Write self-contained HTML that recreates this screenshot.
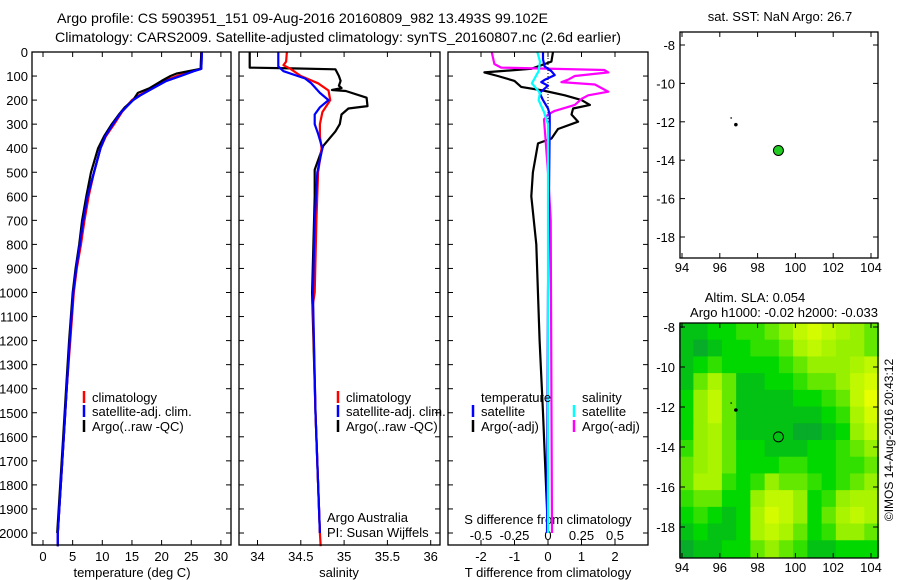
<!DOCTYPE html>
<html><head><meta charset="utf-8"><style>
html,body{margin:0;padding:0;background:#fff;}
svg{display:block;font-family:"Liberation Sans",sans-serif;}
</style></head><body>
<svg id="fig" width="900" height="580" viewBox="0 0 900 580" xmlns="http://www.w3.org/2000/svg">
<text x="57" y="23" font-size="14" textLength="491" lengthAdjust="spacingAndGlyphs">Argo profile: CS 5903951_151 09-Aug-2016 20160809_982 13.493S 99.102E</text>
<text x="55" y="42" font-size="14" textLength="566" lengthAdjust="spacingAndGlyphs">Climatology: CARS2009. Satellite-adjusted climatology: synTS_20160807.nc (2.6d earlier)</text>
<g id="g"></g>
</svg>
<script>
// ---------- data ----------
const depthTicks=[0,100,200,300,400,500,600,700,800,900,1000,1100,1200,1300,1400,1500,1600,1700,1800,1900,2000];
const tempTicks=[0,5,10,15,20,25,30];
const salTicks=[34,34.5,35,35.5,36];
const tdiffTicks=[-2,-1,0,1,2];
const sdiffTicks=[-0.5,-0.25,0,0.25,0.5];
const sdiffTickLabels=["-0.5","-0.25","0","0.25","0.5"];
const lonTicks=[94,96,98,100,102,104];
const latTicks=[-8,-10,-12,-14,-16,-18];

const tClimD=[0,70,80,100,120,150,180,200,250,300,350,400,500,600,700,800,900,1000,1200,1400,1600,1800,2000,2055];
const tClimV=[26.7,26.6,25,22.6,20.5,18.4,16.2,15.0,13.3,12.0,10.6,9.7,8.6,7.7,7.0,6.4,5.7,5.2,4.6,4.0,3.5,3.0,2.5,2.5];
const tSatV =[26.8,26.7,25.4,23.2,20.8,18.6,16.4,15.2,13.2,11.8,10.5,9.7,8.6,7.5,6.8,6.2,5.6,5.1,4.5,4.0,3.5,3.0,2.5,2.5];
const tArgoD=[0,70,80,90,100,120,150,170,200,230,260,300,350,400,500,600,700,800,900,1000,1200,1400,1600,1800,2000];
const tArgoV=[26.7,26.6,24.5,22.5,21.5,20.0,18.0,16.0,15.2,13.8,12.8,11.6,10.3,9.3,8.1,7.3,6.6,6.1,5.5,5.0,4.4,3.9,3.4,2.9,2.4];

const sClimD=[0,40,55,70,100,130,160,200,250,300,350,400,500,700,1000,1050,1500,2000,2055];
const sClimV=[34.34,34.33,34.30,34.38,34.50,34.70,34.82,34.84,34.75,34.72,34.72,34.74,34.70,34.68,34.66,34.64,34.67,34.72,34.73];
const sSatD=[0,60,80,110,130,170,200,230,260,300,340,400,500,700,1000,1500,2000];
const sSatV=[34.24,34.24,34.30,34.55,34.62,34.72,34.82,34.72,34.66,34.66,34.70,34.75,34.69,34.66,34.64,34.67,34.72];
const sArgoD=[0,65,68,72,100,120,140,150,158,162,190,225,235,260,300,330,390,450,490,600,1000,1500,2000];
const sArgoV=[33.91,33.91,34.40,34.90,34.94,34.96,34.94,34.97,34.86,35.02,35.26,35.27,35.05,34.97,34.95,34.90,34.76,34.70,34.66,34.66,34.63,34.67,34.72];

const dtSatD=[0,30,60,80,96,116,125,140,170,200,235,260,300,1000,2000];
const dtSatV=[-0.15,-0.15,-0.1,0.1,0.2,-0.1,-0.2,0.0,-0.25,-0.15,0.0,0.05,0.05,0.0,-0.03];
const dtArgoD=[0,40,70,85,100,120,145,160,180,200,220,235,260,290,320,360,380,500,600,800,1200,1500,2000];
const dtArgoV=[0.15,0.1,-0.5,-1.9,-1.5,-1.0,-0.8,-0.15,0.5,1.0,1.25,0.75,0.7,0.9,0.3,0.1,-0.3,-0.45,-0.5,-0.35,-0.25,-0.15,0.0];
const dsSatD=[0,40,80,130,170,200,250,300,2000];
const dsSatV=[-0.08,-0.06,-0.07,-0.12,-0.06,-0.07,-0.03,0.0,0.0];
const dsArgoD=[0,50,65,75,85,100,115,125,135,150,165,180,195,220,245,260,280,350,500,700,2000];
const dsArgoV=[-0.42,-0.4,-0.35,0.42,0.45,0.2,0.15,0.1,0.35,0.4,0.45,0.3,0.25,0.2,0.05,0.0,-0.03,-0.02,0.0,0.02,0.03];

const floatLon=99.102, floatLat=-13.493;
const trackLon=[96.85,96.6], trackLat=[-12.15,-11.8];
// SLA heatmap (0 = dark green ... 10 = yellow), rows north->south
const slaGrid=[
[2,2,3,3,4,4,5,6,8,9,8,7,6,5],
[2,1,2,3,3,4,4,5,7,8,7,6,6,5],
[2,3,4,3,3,3,3,4,5,6,6,6,7,8],
[2,5,7,5,2,2,3,3,4,5,5,6,8,9],
[3,6,8,5,2,2,2,2,3,3,4,5,8,10],
[3,6,8,5,2,2,2,2,2,2,3,4,7,9],
[3,6,7,5,2,2,2,2,1,1,2,3,6,8],
[4,6,7,5,3,3,2,2,2,3,3,4,5,6],
[5,6,7,5,3,3,3,4,4,3,3,4,4,5],
[5,7,7,4,3,4,6,5,5,4,3,4,5,6],
[4,5,5,3,3,6,8,8,6,3,4,6,7,7],
[3,4,3,2,3,7,9,8,6,3,5,7,8,7],
[2,3,2,2,3,7,8,7,5,3,4,6,6,5],
[1,2,2,3,3,5,6,5,4,2,2,3,3,3]];

// ---------- scales ----------
const yD=d=>52+d*0.2405;
const xT=t=>43+t*5.93;
const xS=s=>257.5+(s-34)*86.6;
const xDT=v=>548+v*33.5;
const xDS=v=>548+v*134;
const xLon=l=>682+(l-94)*18.9;
const yLat1=l=>45+(-l-8)*19.2;
const yLat2=l=>327+(-l-8)*20;

const NS="http://www.w3.org/2000/svg";
const G=document.getElementById('g');
function mk(tag,attrs,parent){const e=document.createElementNS(NS,tag);for(const k in attrs)e.setAttribute(k,attrs[k]);(parent||G).appendChild(e);return e;}
function txt(s,x,y,anchor,size,name){const e=mk('text',{x:x,y:y,'text-anchor':anchor||'start','font-size':size||13});e.textContent=s;


return e;}
function line(x1,y1,x2,y2,col,w,name,dash){const e=mk('line',{x1,y1,x2,y2,stroke:col,'stroke-width':w||1});if(dash)e.setAttribute('stroke-dasharray',dash);


return e;}
function profile(D,V,xf,col,name){const pts=D.map((d,i)=>xf(V[i]).toFixed(1)+','+yD(d).toFixed(1)).join(' ');
const e=mk('polyline',{points:pts,fill:'none',stroke:col,'stroke-width':2.2,'stroke-linejoin':'round'});


return e;}
function frame(x1,y1,x2,y2,name){const e=mk('rect',{x:x1,y:y1,width:x2-x1,height:y2-y1,fill:'none',stroke:'#000','stroke-width':1.3});

}

const TOP=52,BOT=545;
const panels=[[32,231,'temperature-panel'],[239,440,'salinity-panel'],[448,648,'difference-panel']];
// depth ticks on all panels
panels.forEach(p=>{depthTicks.forEach(d=>{line(p[0],yD(d),p[0]+5,yD(d),'#000',1,'depth-tick');line(p[1]-5,yD(d),p[1],yD(d),'#000',1,'depth-tick');});});
depthTicks.forEach(d=>txt(String(d),28,yD(d)+5,'end',13,'depth-tick-label'));
// panel 1
tempTicks.forEach(t=>{line(xT(t),BOT,xT(t),BOT-5,'#000',1,'temp-tick');line(xT(t),TOP,xT(t),TOP+5,'#000',1,'temp-tick');txt(String(t),xT(t),561,'middle',13,'temp-tick-label');});
txt('temperature (deg C)',132,577,'middle',13,'x-axis-title-temperature');
profile(tClimD,tClimV,xT,'#f00','temp-climatology-line');
profile(tClimD,tSatV,xT,'#00f','temp-satellite-line');
profile(tArgoD,tArgoV,xT,'#000','temp-argo-line');
profile(tClimD,tSatV,xT,'#00f','temp-satellite-line-top');
// panel 2
salTicks.forEach(s=>{line(xS(s),BOT,xS(s),BOT-5,'#000',1,'sal-tick');line(xS(s),TOP,xS(s),TOP+5,'#000',1,'sal-tick');txt(String(s),xS(s),561,'middle',13,'sal-tick-label');});
txt('salinity',339,577,'middle',13,'x-axis-title-salinity');
profile(sArgoD,sArgoV,xS,'#000','sal-argo-line');
profile(sClimD,sClimV,xS,'#f00','sal-climatology-line');
profile(sSatD,sSatV,xS,'#00f','sal-satellite-line');
txt('Argo Australia',327,522,'start',13,'credit-argo-australia');
txt('PI: Susan Wijffels',327,537,'start',13,'credit-pi');
// panel 3
tdiffTicks.forEach(v=>{line(xDT(v),BOT,xDT(v),BOT-5,'#000',1,'tdiff-tick');line(xDT(v),TOP,xDT(v),TOP+5,'#000',1,'tdiff-tick');txt(String(v),xDT(v),561,'middle',13,'tdiff-tick-label');});
txt('T difference from climatology',548,577,'middle',13,'x-axis-title-tdiff');
sdiffTicks.forEach((v,i)=>txt(sdiffTickLabels[i],xDS(v),540,'middle',13,'sdiff-tick-label'));
txt('S difference from climatology',548,524,'middle',13,'sdiff-axis-title');
line(548,TOP,548,yD(400),'#000',1,'zero-reference-line','1,2');
profile(dtArgoD,dtArgoV,xDT,'#000','tdiff-argo-line');
profile(dsArgoD,dsArgoV,xDS,'#f0f','sdiff-argo-line');
profile(dtSatD,dtSatV,xDT,'#00f','tdiff-satellite-line');
profile(dsSatD,dsSatV,xDS,'#0ff','sdiff-satellite-line');
panels.forEach(p=>frame(p[0],TOP,p[1],BOT,p[2]));
// legends
function leg(x,y,col,label,name){line(x,y-11,x,y+1,col,2.5,name+'-swatch');txt(label,x+8,y,'start',13,name);}
leg(84,402,'#f00','climatology','legend-climatology');
leg(84,416,'#00f','satellite-adj. clim.','legend-satellite');
leg(84,431,'#000','Argo(..raw -QC)','legend-argo');
leg(338,402,'#f00','climatology','legend-sal-climatology');
leg(338,416,'#00f','satellite-adj. clim.','legend-sal-satellite');
leg(338,431,'#000','Argo(..raw -QC)','legend-sal-argo');
txt('temperature',481,402,'start',13,'legend-temperature-heading');
txt('salinity',582,402,'start',13,'legend-salinity-heading');
leg(473,416,'#00f','satellite','legend-t-satellite');
leg(473,431,'#000','Argo(-adj)','legend-t-argo');
leg(574,416,'#0ff','satellite','legend-s-satellite');
leg(574,431,'#f0f','Argo(-adj)','legend-s-argo');

// ---------- maps ----------
function mapAxes(y1,y2,yl,labY,name){
 lonTicks.forEach(l=>{line(xLon(l),y2,xLon(l),y2-5,'#000',1,'lon-tick');line(xLon(l),y1,xLon(l),y1+5,'#000',1,'lon-tick');txt(String(l),xLon(l),labY,'middle',13,'lon-tick-label');});
 latTicks.forEach(l=>{line(680,yl(l),685,yl(l),'#000',1,'lat-tick');line(873,yl(l),878,yl(l),'#000',1,'lat-tick');txt(String(l),675,yl(l)+5,'end',13,'lat-tick-label');});
 frame(680,y1,878,y2,name);
}
// heatmap
const lon0=93.85,dlon=10.55/14,lat0=-7.8,dlat=11.7/14;
function slaColor(v){const stops=[[0,[10,150,60]],[3,[0,216,0]],[6,[150,240,0]],[10,[232,255,0]]];
for(let i=1;i<stops.length;i++){if(v<=stops[i][0]){const a=stops[i-1],b=stops[i],t=(v-a[0])/(b[0]-a[0]);return 'rgb('+a[1].map((c,k)=>Math.round(c+(b[1][k]-c)*t)).join(',')+')';}}return 'rgb(232,255,0)';}
slaGrid.forEach((row,r)=>row.forEach((v,c)=>{
 const x1=xLon(lon0+c*dlon),x2=xLon(lon0+(c+1)*dlon),y1=yLat2(lat0-r*dlat),y2=yLat2(lat0-(r+1)*dlat);
 const e=mk('rect',{x:x1,y:y1,width:x2-x1+0.6,height:y2-y1+0.6,fill:slaColor(v)});
 
 
}));
mapAxes(32,258,yLat1,272,'sst-map-frame');
mapAxes(323,558,yLat2,572,'sla-map-frame');
txt('sat. SST: NaN Argo: 26.7',780,21,'middle',13,'sst-map-title');
txt('Altim. SLA: 0.054',755,302,'middle',13,'sla-map-title');
txt('Argo h1000: -0.02 h2000: -0.033',784,317,'middle',13,'sla-map-subtitle');
[[yLat1,'#2c2'],[yLat2,'none']].forEach(m=>{
 trackLon.forEach((l,i)=>{const e=mk('circle',{cx:xLon(l),cy:m[0](trackLat[i]),r:i?0.8:1.8,fill:'#000'});});
 const c=mk('circle',{cx:xLon(floatLon),cy:m[0](floatLat),r:5,fill:m[1],stroke:'#000','stroke-width':1});
 
 
});
const cr=txt('©IMOS 14-Aug-2016 20:43:12',0,0,'middle',12,'imos-timestamp');
cr.setAttribute('transform','translate(893,440) rotate(-90)');
</script>
</body></html>
